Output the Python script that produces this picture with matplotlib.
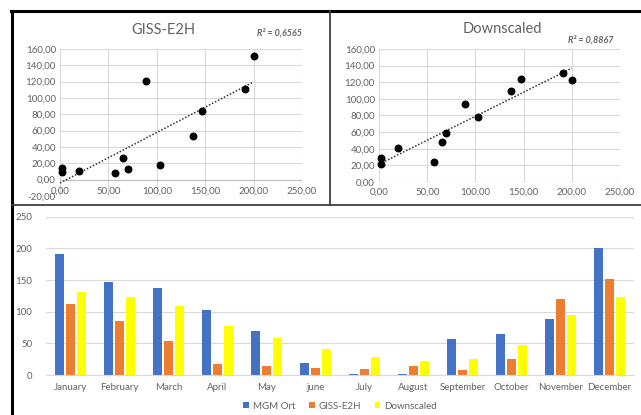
import numpy as np
import matplotlib
matplotlib.use('Agg')
import matplotlib.pyplot as plt
from matplotlib.lines import Line2D

plt.rcParams['font.family'] = ['Lato', 'DejaVu Sans']

#=========================================================================
# data
#=========================================================================
months = ['January', 'February', 'March', 'April', 'May', 'june',
          'July', 'August', 'September', 'October', 'November', 'December']
mgm_ort = [191, 147, 137, 103, 70, 19.5, 2, 2, 57, 65, 89, 200]
giss_e2h = [111.5, 84.5, 54, 17.5, 13.5, 10.5, 9.5, 14, 8, 26, 120.5, 151.5]
downscaled = [131.5, 123.5, 109.5, 78, 58.5, 41, 28.5, 22, 24.5, 48, 94, 122.5]

r2_labels = ['R² = 0,6565', 'R² = 0,8867']
series_names = ['MGM Ort', 'GISS-E2H', 'Downscaled']

GRAY = '#626262'
GRID = '#d9d9d9'
COLORS = ['#4472c4', '#ed7d31', '#ffff00']

W, H = 641, 415
fig = plt.figure(figsize=(W / 100, H / 100), dpi=100)


def fx(px):
    return px / W


def fy(py):
    return 1 - py / H


def comma(v, nd):
    return ('{:.%df}' % nd).format(v).replace('.', ',')


#=========================================================================
# scatter panels
#=========================================================================
def scatter_panel(rect, yvals, title, r2, ymin, title_pos, r2_pos, xpad):
    ax = fig.add_axes(rect)
    x = np.array(mgm_ort)
    y = np.array(yvals)
    ax.set_xlim(0, 250)
    ax.set_ylim(ymin, 160)
    ax.set_xticks(np.arange(0, 251, 50))
    ax.set_yticks(np.arange(ymin, 161, 20))
    for v in np.arange(0, 251, 50):
        ax.axvline(v, color=GRID, lw=0.8, zorder=0)
    for v in np.arange(0, 161, 20):
        ax.axhline(v, color=GRID, lw=0.8, zorder=0)
    ax.axhline(0, color='#bfbfbf', lw=0.8, zorder=0)
    for s in ax.spines.values():
        s.set_visible(False)
    ax.spines['bottom'].set_position(('data', 0))
    ax.tick_params(length=0, labelsize=7, colors=GRAY, pad=3)
    ax.tick_params(axis='x', pad=xpad)
    ax.set_xticklabels([comma(v, 2) for v in np.arange(0, 251, 50)])
    ax.set_yticklabels([comma(v, 2) for v in np.arange(ymin, 161, 20)])

    # linear trend line
    k, b = np.polyfit(x, y, 1)
    xl = np.array([0, x.max()])
    ax.plot(xl, k * xl + b, color='#333333', lw=1.1, ls=(0, (1, 1.2)), zorder=2)
    ax.scatter(x, y, s=22, color='black', zorder=3, clip_on=False)

    fig.text(fx(title_pos[0]), fy(title_pos[1]), title, ha='center', va='center',
             fontsize=10.5, color=GRAY)
    fig.text(fx(r2_pos[0]), fy(r2_pos[1]), r2, ha='right', va='center',
             fontsize=6.5, color=GRAY, style='italic', fontweight='bold')
    return ax


scatter_panel([fx(60), fy(196), fx(302) - fx(60), fy(49) - fy(196)],
              giss_e2h, 'GISS-E2H', r2_labels[0], -20, (163, 30), (302, 33), 5)
scatter_panel([fx(379), fy(182), fx(620) - fx(379), fy(49) - fy(182)],
              downscaled, 'Downscaled', r2_labels[1], 0, (502, 29), (613, 40), 4)

#=========================================================================
# bar panel
#=========================================================================
ax = fig.add_axes([fx(46), fy(375), fx(634) - fx(46), fy(216.7) - fy(375)])
idx = np.arange(len(months))
bw = 0.185
off = 0.225
for i, (vals, c, name) in enumerate(zip([mgm_ort, giss_e2h, downscaled], COLORS, series_names)):
    ax.bar(idx + (i - 1) * off, vals, width=bw, color=c, label=name, zorder=2)
ax.set_xlim(-0.5, len(months) - 0.5)
ax.set_ylim(0, 250)
ax.set_yticks(np.arange(0, 251, 50))
ax.set_xticks(idx)
ax.set_xticklabels(months)
ax.yaxis.grid(True, color=GRID, lw=0.8, zorder=0)
ax.set_axisbelow(True)
for s in ['top', 'right', 'left']:
    ax.spines[s].set_visible(False)
ax.spines['bottom'].set_color(GRID)
ax.tick_params(length=0, labelsize=7, colors=GRAY)
ax.tick_params(axis='x', pad=6)
ax.tick_params(axis='y', pad=10)
leg = ax.legend(loc='center', bbox_to_anchor=(fx(340), fy(406)), bbox_transform=fig.transFigure,
                ncol=3, frameon=False, fontsize=7, handlelength=0.6, handleheight=0.6,
                handletextpad=0.4, columnspacing=1.4)
for t in leg.get_texts():
    t.set_color(GRAY)

#=========================================================================
# panel borders
#=========================================================================
fig.add_artist(Line2D([fx(11), 1], [fy(11), fy(11)], color='black', lw=2.2))
fig.add_artist(Line2D([fx(12), fx(12)], [fy(11), 0], color='black', lw=2.2))
fig.add_artist(Line2D([fx(330), fx(330)], [fy(11), fy(205)], color='#404040', lw=1.3))
fig.add_artist(Line2D([fx(12), 1], [fy(205), fy(205)], color='#404040', lw=1.3))

fig.savefig('out.png', dpi=100)
